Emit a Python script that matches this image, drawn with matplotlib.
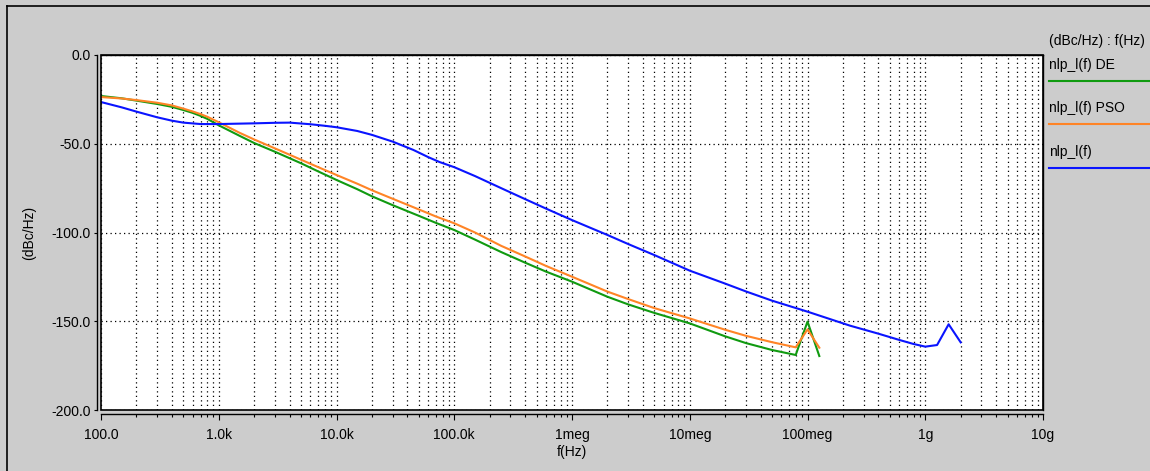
import numpy as np
import matplotlib.pyplot as plt
from matplotlib.lines import Line2D
from matplotlib.patches import Rectangle
from matplotlib.ticker import FixedLocator, FixedFormatter, LogLocator, NullFormatter

plt.rcParams['font.family'] = ['Liberation Sans', 'DejaVu Sans']

# frequency points (Hz) and noise values (dBc/Hz)
f_de = [100, 150, 200, 300, 400, 500, 600, 700, 800, 1e3, 1.5e3, 2e3, 3e3, 5e3, 7e3,
        1e4, 1.5e4, 2e4, 3e4, 5e4, 7e4, 1e5, 1.5e5, 2.5e5, 4e5, 6e5,
        1e6, 2e6, 3e6, 5e6, 1e7, 2e7, 3e7, 5e7, 7.94e7, 1e8, 1.26e8]
de = [-23.1, -24.4, -25.7, -27.6, -29.2, -31.0, -32.6, -34.3, -36.0, -39.6, -45.5,
      -49.6, -54.5, -61.0, -65.6, -70.4, -75.6, -79.6, -84.6, -90.6, -94.6, -98.6,
      -104.0, -111.0, -117.0, -122.0, -127.7, -136.2, -140.5, -145.3, -151.2,
      -158.5, -162.3, -166.2, -169.0, -150.2, -169.6]

f_pso = [100, 150, 200, 300, 400, 500, 600, 700, 800, 1e3, 1.5e3, 2e3, 3e3, 5e3, 7e3,
         1e4, 1.5e4, 2e4, 3e4, 5e4, 7e4, 1e5, 1.5e5, 2.5e5, 4e5, 6e5,
         1e6, 2e6, 3e6, 5e6, 1e7, 2e7, 3e7, 5e7, 7.94e7, 1e8, 1.26e8]
pso = [-23.7, -24.5, -25.4, -26.9, -28.4, -30.2, -31.8, -33.3, -34.8, -37.9, -43.8,
       -47.6, -52.6, -59.0, -63.2, -67.6, -72.5, -76.2, -81.0, -87.0, -91.0, -94.8,
       -100.0, -107.5, -113.5, -118.8, -124.9, -133.3, -137.5, -142.6, -148.4,
       -154.8, -158.2, -161.8, -164.7, -154.6, -164.9]

f_ref = [100, 150, 200, 300, 400, 500, 700, 1e3, 2e3, 3e3, 4e3, 6e3, 8e3,
         1e4, 1.5e4, 2e4, 3e4, 4.5e4, 6e4, 7.5e4, 1e5, 1.5e5, 2.5e5, 4e5, 6e5,
         1e6, 2e6, 3e6, 5e6, 1e7, 2e7, 3e7, 5e7, 1e8, 2.3e8, 4e8, 6e8, 7.94e8,
         1e9, 1.26e9, 1.58e9, 2e9]
ref = [-26.5, -29.5, -31.9, -35.1, -37.0, -38.1, -38.9, -38.9, -38.5, -38.2, -38.1,
       -39.0, -39.9, -40.7, -42.8, -45.0, -48.8, -53.5, -57.5, -60.3, -63.2, -68.2,
       -75.0, -81.2, -86.5, -93.0, -101.4, -106.5, -112.7, -121.5, -128.8, -133.2,
       -138.4, -144.6, -152.5, -157.0, -160.5, -162.8, -164.3, -163.4, -151.7,
       -161.9]

xticks = [1e2, 1e3, 1e4, 1e5, 1e6, 1e7, 1e8, 1e9, 1e10]
xlabels = ['100.0', '1.0k', '10.0k', '100.0k', '1meg', '10meg', '100meg', '1g', '10g']
yticks = [0, -50, -100, -150, -200]
ylabels = ['0.0', '-50.0', '-100.0', '-150.0', '-200.0']

series = [('nlp_l(f) DE', f_de, de, '#109a10'),
          ('nlp_l(f) PSO', f_pso, pso, '#ff8426'),
          ('nlp_l(f)', f_ref, ref, '#0a14ff')]

W, H = 1150, 471
fig = plt.figure(figsize=(W / 100, H / 100), dpi=100, facecolor='#cccccc')

# thin border on top and left of the window
fig.add_artist(Line2D([7 / W, 1], [1 - 6 / H, 1 - 6 / H], color='black', lw=1.2))
fig.add_artist(Line2D([7 / W, 7 / W], [0, 1 - 6 / H], color='black', lw=1.2))

ax = fig.add_axes([101 / W, 1 - 410 / H, 942 / W, 355 / H])
ax.set_facecolor('white')
ax.set_xscale('log')
ax.set_xlim(1e2, 1e10)
ax.set_ylim(-200, 0)

for name, fx, fy, col in series:
    ax.plot(fx, fy, color=col, lw=1.5, solid_joinstyle='round', zorder=3)

# dotted grid
ax.xaxis.set_major_locator(FixedLocator(xticks))
ax.xaxis.set_major_formatter(FixedFormatter(xlabels))
ax.xaxis.set_minor_locator(LogLocator(base=10, subs=np.arange(2, 10), numticks=20))
ax.xaxis.set_minor_formatter(NullFormatter())
ax.yaxis.set_major_locator(FixedLocator(yticks))
ax.yaxis.set_major_formatter(FixedFormatter(ylabels))
ax.grid(True, which='both', axis='x', color='black', lw=0.9, ls=(0, (1, 2.6)))
ax.grid(True, which='major', axis='y', color='black', lw=0.9, ls=(0, (1, 2.6)))

# axis spines moved a bit out, frame drawn separately
ax.spines['left'].set_position(('outward', 3))
ax.spines['bottom'].set_position(('outward', 3))
for s in ax.spines.values():
    s.set_linewidth(1.0)
ax.add_patch(Rectangle((0, 0), 1, 1, transform=ax.transAxes, fill=False,
                       edgecolor='black', lw=1.2, zorder=4, clip_on=False))

ax.tick_params(axis='x', which='major', direction='out', length=4.5, width=0.8,
               labelsize=10, pad=5.5)
ax.tick_params(axis='x', which='minor', direction='out', length=2.3, width=0.8)
ax.tick_params(axis='y', which='major', direction='out', length=2.5, width=0.8,
               labelsize=10, pad=2)

ax.set_xlabel('f(Hz)', fontsize=10, labelpad=2)
ax.set_ylabel('(dBc/Hz)', fontsize=10, labelpad=11)

# legend at the right side
fig.text(1049 / W, 1 - 41 / H, '(dBc/Hz) : f(Hz)', fontsize=10, va='center')
ly = [65, 108, 152]
for (name, fx, fy, col), y in zip(series, ly):
    fig.text(1049 / W, 1 - y / H, name, fontsize=10, va='center')
    fig.add_artist(Line2D([1049 / W, 1], [1 - (y + 16) / H] * 2, color=col, lw=1.5))

fig.savefig('out.png', dpi=100, facecolor=fig.get_facecolor())
